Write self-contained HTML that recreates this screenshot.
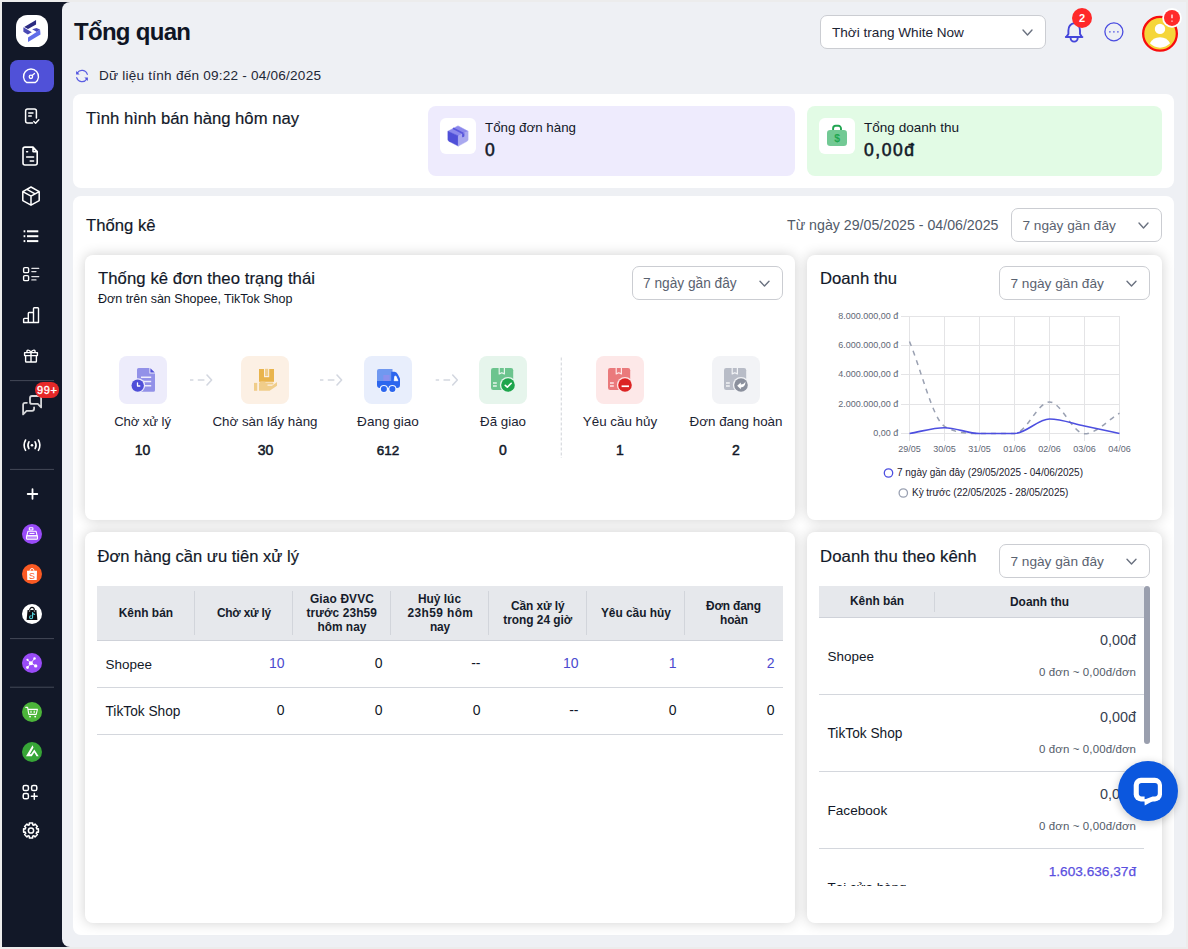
<!DOCTYPE html>
<html lang="vi"><head><meta charset="utf-8"><title>Tổng quan</title>
<style>
html,body{margin:0;padding:0;}
body{width:1188px;height:949px;overflow:hidden;position:relative;background:#ececec;
font-family:"Liberation Sans", sans-serif;}
.b{position:absolute;box-sizing:border-box;}
.t{position:absolute;white-space:pre;line-height:1;font-family:"Liberation Sans", sans-serif;}
svg{position:absolute;overflow:visible;}
.sel{position:absolute;box-sizing:border-box;background:#fff;border:1px solid #cbcdd2;border-radius:7px;}
.card{position:absolute;box-sizing:border-box;background:#fff;border-radius:8px;}
.sub{position:absolute;box-sizing:border-box;background:#fff;border-radius:8px;box-shadow:0 0 13px rgba(0,0,0,.19);}
</style></head>
<body>
<div class="b" style="left:2px;top:2px;width:1184px;height:945px;background:#121828;"></div>
<div class="b" style="left:62px;top:2px;width:1124px;height:945px;background:#eef0f4;border-radius:8px 0 0 8px;"></div>
<div class="sel" style="left:820px;top:15px;width:226px;height:34px;"></div>
<div class="card" style="left:73px;top:94px;width:1101px;height:94px;"></div>
<div class="b" style="left:428px;top:106px;width:367px;height:70px;background:#eeebfd;border-radius:8px;"></div>
<div class="b" style="left:807px;top:106px;width:355px;height:70px;background:#e2fbe5;border-radius:8px;"></div>
<div class="b" style="left:440px;top:118px;width:36px;height:36px;background:#fff;border-radius:6px;"></div>
<div class="b" style="left:819px;top:118px;width:36px;height:36px;background:#fff;border-radius:6px;"></div>
<div class="card" style="left:73px;top:196px;width:1101px;height:738.5px;"></div>
<div class="sel" style="left:1011px;top:208px;width:151px;height:34px;"></div>
<div class="sub" style="left:85px;top:254.5px;width:710px;height:265px;"></div>
<div class="sub" style="left:807px;top:254.5px;width:355px;height:265px;"></div>
<div class="sub" style="left:85px;top:532px;width:710px;height:390.5px;"></div>
<div class="sub" style="left:807px;top:532px;width:355px;height:390.5px;"></div>
<div class="sel" style="left:632px;top:266px;width:151px;height:34px;"></div>
<div class="sel" style="left:999px;top:266px;width:151px;height:34px;"></div>
<div class="sel" style="left:999px;top:544px;width:151px;height:34px;"></div>
<div class="b" style="left:119px;top:356px;width:48px;height:48px;background:#edecfb;border-radius:8px;"></div>
<div class="b" style="left:241px;top:356px;width:48px;height:48px;background:#fcf0e4;border-radius:8px;"></div>
<div class="b" style="left:364px;top:356px;width:48px;height:48px;background:#e8eefc;border-radius:8px;"></div>
<div class="b" style="left:479px;top:356px;width:48px;height:48px;background:#e6f5ec;border-radius:8px;"></div>
<div class="b" style="left:596px;top:356px;width:48px;height:48px;background:#fde8e8;border-radius:8px;"></div>
<div class="b" style="left:712px;top:356px;width:48px;height:48px;background:#f2f3f6;border-radius:8px;"></div>
<div class="b" style="left:97px;top:586px;width:686px;height:54.5px;background:#e6e8ec;border-bottom:1px solid #cfd2d9;"></div>
<div class="b" style="left:194.0px;top:591px;width:1.0px;height:44px;background:#d2d5db;"></div>
<div class="b" style="left:292.0px;top:591px;width:1.0px;height:44px;background:#d2d5db;"></div>
<div class="b" style="left:390.0px;top:591px;width:1.0px;height:44px;background:#d2d5db;"></div>
<div class="b" style="left:488.0px;top:591px;width:1.0px;height:44px;background:#d2d5db;"></div>
<div class="b" style="left:586.0px;top:591px;width:1.0px;height:44px;background:#d2d5db;"></div>
<div class="b" style="left:684.0px;top:591px;width:1.0px;height:44px;background:#d2d5db;"></div>
<div class="b" style="left:97px;top:686.5px;width:686px;height:1.0px;background:#d4d7dd;"></div>
<div class="b" style="left:97px;top:733.7px;width:686px;height:1.0px;background:#d4d7dd;"></div>
<div class="b" style="left:819px;top:586px;width:325px;height:31.5px;background:#e6e8ec;border-bottom:1px solid #cfd2d9;"></div>
<div class="b" style="left:934px;top:591.5px;width:1px;height:20.5px;background:#d2d5db;"></div>
<div class="b" style="left:819px;top:694px;width:325px;height:1px;background:#d4d7dd;"></div>
<div class="b" style="left:819px;top:771px;width:325px;height:1px;background:#d4d7dd;"></div>
<div class="b" style="left:819px;top:848px;width:325px;height:1px;background:#d4d7dd;"></div>
<div class="b" style="left:1144px;top:586px;width:6px;height:158px;background:#9a9fae;border-radius:3px;"></div>
<svg style="left:0;top:0;" width="62" height="949" viewBox="0 0 62 949"><rect x="16" y="15" width="32" height="32" rx="11.5" fill="#fff"/>
<g transform="translate(16,15)"><polygon points="20.05,4.9 20.05,9.5 12.0,14.1 8.2,12.0" fill="#2b2b80"/><polygon points="7.4,12.2 7.4,16.7 11.8,19.6 15.8,17.3 8.7,12.9" fill="#4a4ab4"/><polygon points="16.2,14.3 20.5,12.9 24.1,14.6 20.9,16.9" fill="#4c4cbb"/><polygon points="24.1,14.8 24.5,19.4 12.0,27.0 12.0,22.4" fill="#606de9"/></g>
<rect x="10" y="60" width="44" height="32" rx="8" fill="#5051d8"/>
<path d="M26.6 82.5 A7.5 7.5 0 1 1 35.4 82.5 Z" stroke="#fff" fill="none" stroke-linecap="round" stroke-linejoin="round" stroke-width="1.4"/>
<circle cx="30.9" cy="76.8" r="1.7" stroke="#fff" fill="none" stroke-linecap="round" stroke-linejoin="round" stroke-width="1.3"/>
<path d="M32.2 75.5 L34.5 73.4" stroke="#fff" fill="none" stroke-linecap="round" stroke-linejoin="round" stroke-width="1.3"/>
<path d="M32.5 123 H27.6 A2 2 0 0 1 25.6 121 V111 A2 2 0 0 1 27.6 109 H34.4 A2 2 0 0 1 36.4 111 V118" stroke="#fff" fill="none" stroke-linecap="round" stroke-linejoin="round" stroke-width="1.5"/>
<path d="M28.7 113 H33 M28.7 116 H31.3" stroke="#fff" fill="none" stroke-linecap="round" stroke-linejoin="round" stroke-width="1.4"/>
<path d="M33.8 121.4 L35.6 123.2 L38.8 119.8" stroke="#fff" fill="none" stroke-linecap="round" stroke-linejoin="round" stroke-width="1.4"/>
<path d="M25 147.1 H33 L37.2 151.6 V163 A2 2 0 0 1 35.2 165 H25 A2 2 0 0 1 23 163 V149.1 A2 2 0 0 1 25 147.1 Z M33 147.3 V151.6 H37" stroke="#fff" fill="none" stroke-linecap="round" stroke-linejoin="round" stroke-width="1.6"/>
<path d="M26.6 151.7 H27.6 M26.6 157 H33.6 M30.2 161 H33.6" stroke="#fff" fill="none" stroke-linecap="round" stroke-linejoin="round" stroke-width="1.5"/>
<path d="M31 187 L39.2 191.6 V200.6 L31 205.2 L22.8 200.6 V191.6 Z M22.8 191.6 L31 196.2 L39.2 191.6 M31 196.2 V205.2 M26.9 189.3 L35.1 193.9" stroke="#fff" fill="none" stroke-linecap="round" stroke-linejoin="round" stroke-width="1.5"/>
<g fill="#fff"><rect x="27" y="230.3" width="11.3" height="2"/><rect x="27" y="235.2" width="11.3" height="2"/><rect x="27" y="240.1" width="11.3" height="2"/><rect x="23.6" y="230.3" width="1.7" height="2"/><rect x="23.6" y="235.2" width="1.7" height="2"/><rect x="23.6" y="240.1" width="1.7" height="2"/></g>
<rect x="23.6" y="267.6" width="5" height="5" rx="1.2" stroke="#fff" fill="none" stroke-linecap="round" stroke-linejoin="round" stroke-width="1.4"/><rect x="23.6" y="275.6" width="5" height="5" rx="1.2" stroke="#fff" fill="none" stroke-linecap="round" stroke-linejoin="round" stroke-width="1.4"/>
<path d="M31.8 268.3 H38.8 M31.8 271.6 H36 M31.8 276.6 H38.8 M31.8 279.9 H36" stroke="#e0e0e4" stroke-width="1.2" fill="none" stroke-linecap="round"/>
<path d="M23.6 322.5 V319.2 A0.8 0.8 0 0 1 24.4 318.4 H28.3 V313.3 A0.8 0.8 0 0 1 29.1 312.5 H33.5 V308.6 A0.8 0.8 0 0 1 34.3 307.8 H37.7 A0.8 0.8 0 0 1 38.5 308.6 V322.5 Z M28.3 318.4 V322.5 M33.5 312.5 V322.5" stroke="#fff" fill="none" stroke-linecap="round" stroke-linejoin="round" stroke-width="1.4"/>
<path d="M25.6 355.6 V361.2 A0.8 0.8 0 0 0 26.4 362 H35.6 A0.8 0.8 0 0 0 36.4 361.2 V355.6 M24.6 352.6 H37.4 V355.6 H24.6 Z M31 352.6 V362 M31 352.6 C29.5 349 25.8 349.6 27.2 352.4 M31 352.6 C32.5 349 36.2 349.6 34.8 352.4" stroke="#fff" fill="none" stroke-linecap="round" stroke-linejoin="round" stroke-width="1.4"/>
<rect x="10" y="380.1" width="44" height="1" fill="#444957"/>
<rect x="10" y="468.9" width="44" height="1" fill="#444957"/>
<rect x="10" y="638.1" width="44" height="1" fill="#444957"/>
<rect x="10" y="686.7" width="44" height="1" fill="#444957"/>
<path d="M32 396 H39.1 A2 2 0 0 1 41.1 398 V407.4 L37.8 403.9 H32 A2 2 0 0 1 30 401.9 V398 A2 2 0 0 1 32 396 Z" stroke="#d6d7da" fill="none" stroke-linecap="round" stroke-linejoin="round" stroke-width="1.8"/>
<path d="M26.9 402.8 H25.1 A2 2 0 0 0 23.1 404.8 V414.4 L26.6 410.8 H32.1 A2 2 0 0 0 34.1 408.8 V407.3" stroke="#d6d7da" fill="none" stroke-linecap="round" stroke-linejoin="round" stroke-width="1.8"/>
<rect x="35" y="382" width="24.1" height="16.1" rx="8" fill="#e52828"/>
<text x="46.9" y="394" text-anchor="middle" font-family="Liberation Sans, sans-serif" font-size="11" fill="#fff" stroke="#fff" stroke-width="0.35" textLength="20" lengthAdjust="spacing">99+</text>
<circle cx="32" cy="445.2" r="1.3" fill="#fff"/>
<path d="M28.9 441.8 Q26.9 445.2 28.9 448.6 M35.1 441.8 Q37.1 445.2 35.1 448.6 M25.6 440 Q22.6 445.2 25.6 450.4 M38.4 440 Q41.4 445.2 38.4 450.4" stroke="#fff" fill="none" stroke-linecap="round" stroke-linejoin="round" stroke-width="1.6"/>
<path d="M32.5 489.2 V498.8 M27.7 494 H37.3" stroke="#fff" fill="none" stroke-linecap="round" stroke-linejoin="round" stroke-width="1.8"/>
<circle cx="32" cy="534" r="10" fill="#994bf8"/>
<g stroke="#fff" fill="none" stroke-width="1.1" stroke-linejoin="round"><rect x="29.3" y="527.8" width="3.6" height="2.2" rx="0.5"/><path d="M28 531.2 H36 L37.2 535.8 H26.8 Z"/><rect x="26.5" y="535.8" width="11" height="3.4" rx="0.8" fill="#fff" fill-opacity="0.35"/><path d="M29.5 533.4 H34.5"/></g>
<circle cx="32" cy="574" r="10" fill="#fa5a23"/>
<path d="M27 570.7 H37 L36.7 580 H27.3 Z" fill="#fff"/>
<path d="M30 570.9 A2 2.4 0 0 1 34 570.9" stroke="#fff" stroke-width="1" fill="none"/>
<text x="32" y="578.9" text-anchor="middle" font-family="Liberation Sans, sans-serif" font-size="9" fill="#fa5a23">S</text>
<circle cx="32" cy="614" r="10" fill="#fff"/>
<path d="M27.6 610 H36.4 L37.4 619.9 H26.6 Z" fill="#0b0b10"/><rect x="28.9" y="610.2" width="1.3" height="1.3" fill="#fff"/><rect x="33.8" y="610.2" width="1.3" height="1.3" fill="#fff"/>
<path d="M29.6 610.4 A2.4 3 0 0 1 34.4 610.4" stroke="#0b0b10" stroke-width="1.2" fill="none"/>
<path d="M32.6 612.6 V617.2 A1.5 1.5 0 1 1 31.1 615.7 M32.6 612.6 Q33 614.2 34.6 614.4" stroke="#59d6e0" stroke-width="1.1" fill="none" stroke-linecap="round"/>
<circle cx="32" cy="663" r="10" fill="#994bf8"/>
<g fill="#fff"><path d="M30.9 663.2 L34.5 658.5 M30.9 663.2 L27.5 659.8 M30.9 663.2 L27.5 667.5 M30.9 663.2 L35.7 665.9" fill="none" stroke="#fff" stroke-width="0.9"/><circle cx="30.9" cy="663.2" r="2"/><circle cx="34.5" cy="658.5" r="1.25"/><circle cx="27.5" cy="659.8" r="1.1"/><circle cx="27.5" cy="667.5" r="1.4"/><circle cx="35.7" cy="665.9" r="1.7"/></g>
<circle cx="32" cy="712" r="10" fill="#4cb53a"/>
<path d="M25.8 707.4 H27.6 L28.8 714.4 H36.2 L37.4 709.4 H28 M31 711 V712.4 M34.2 711 V712.4" stroke="#fff" stroke-width="1.1" fill="none" stroke-linecap="round" stroke-linejoin="round"/>
<circle cx="30" cy="716.6" r="0.95" fill="#fff"/><circle cx="35.2" cy="716.6" r="0.95" fill="#fff"/>
<circle cx="32" cy="752" r="10" fill="#37a537"/>
<polygon points="26,756.2 32.6,745.2 33.5,747.6 29.9,753.9 31,754.2 34.3,749.6 38.7,756.2 36.5,756.2 34.3,752.6 31.8,756.2" fill="#fff"/>
<rect x="23.2" y="785.4" width="5.2" height="5.2" rx="1.6" stroke="#fff" fill="none" stroke-linecap="round" stroke-linejoin="round" stroke-width="1.5"/><rect x="31.6" y="785.4" width="5.2" height="5.2" rx="1.6" stroke="#fff" fill="none" stroke-linecap="round" stroke-linejoin="round" stroke-width="1.5"/><rect x="23.2" y="793.6" width="5.2" height="5.2" rx="1.6" stroke="#fff" fill="none" stroke-linecap="round" stroke-linejoin="round" stroke-width="1.5"/><path d="M34.3 793.4 V799.2 M31.4 796.3 H37.2" stroke="#fff" fill="none" stroke-linecap="round" stroke-linejoin="round" stroke-width="1.5"/>
<path d="M29.34 823.08 L32.66 823.08 L32.62 824.72 L33.94 825.27 L35.07 824.08 L37.42 826.43 L36.23 827.56 L36.78 828.88 L38.42 828.84 L38.42 832.16 L36.78 832.12 L36.23 833.44 L37.42 834.57 L35.07 836.92 L33.94 835.73 L32.62 836.28 L32.66 837.92 L29.34 837.92 L29.38 836.28 L28.06 835.73 L26.93 836.92 L24.58 834.57 L25.77 833.44 L25.22 832.12 L23.58 832.16 L23.58 828.84 L25.22 828.88 L25.77 827.56 L24.58 826.43 L26.93 824.08 L28.06 825.27 L29.38 824.72 Z" stroke="#fff" fill="none" stroke-linecap="round" stroke-linejoin="round" stroke-width="1.5"/>
<circle cx="31" cy="830.5" r="2.6" stroke="#fff" fill="none" stroke-linecap="round" stroke-linejoin="round" stroke-width="1.5"/></svg>
<svg style="left:0;top:0;" width="1188" height="949" viewBox="0 0 1188 949"><path d="M87.3 74.4 A5.55 5.55 0 0 0 77.3 72.9" stroke="#5b5ee2" fill="none" stroke-width="1.2" stroke-linecap="round" stroke-linejoin="round"/>
<path d="M76.1 70.9 V74.4 H79.6 Z" fill="#5053de"/>
<path d="M76.7 77.6 A5.55 5.55 0 0 0 86.7 79.1" stroke="#5b5ee2" fill="none" stroke-width="1.2" stroke-linecap="round" stroke-linejoin="round"/>
<path d="M87.9 81.1 V77.6 H84.4 Z" fill="#5053de"/>
<path d="M1023.0 30.1 L1027.5 34.9 L1032.0 30.1" stroke="#6b7280" stroke-width="1.4" fill="none" stroke-linecap="round" stroke-linejoin="round"/>
<path d="M1139.0 223.1 L1143.5 227.9 L1148.0 223.1" stroke="#6b7280" stroke-width="1.4" fill="none" stroke-linecap="round" stroke-linejoin="round"/>
<path d="M760.0 281.3 L764.5 286.09999999999997 L769.0 281.3" stroke="#6b7280" stroke-width="1.4" fill="none" stroke-linecap="round" stroke-linejoin="round"/>
<path d="M1127.0 281.3 L1131.5 286.09999999999997 L1136.0 281.3" stroke="#6b7280" stroke-width="1.4" fill="none" stroke-linecap="round" stroke-linejoin="round"/>
<path d="M1127.0 559.3000000000001 L1131.5 564.1 L1136.0 559.3000000000001" stroke="#6b7280" stroke-width="1.4" fill="none" stroke-linecap="round" stroke-linejoin="round"/>
<path d="M1065.8 37 H1082.4 M1066.6 36.6 L1068.4 34 V30.4 C1068.4 26.6 1070.8 24 1074.2 23.2 C1077.6 24 1080 26.6 1080 30.4 V34 L1081.6 36.6 M1070.6 37.9 A3.55 3.7 0 0 0 1077.7 37.9" stroke="#4446da" fill="none" stroke-width="1.9" stroke-linecap="round" stroke-linejoin="round"/>
<circle cx="1082" cy="18" r="10" fill="#ff2929"/>
<text x="1082" y="22" text-anchor="middle" font-family="Liberation Sans, sans-serif" font-size="11" font-weight="700" fill="#fff">2</text>
<circle cx="1113.9" cy="31.8" r="9" stroke="#4a4ce0" stroke-width="1.3" fill="none"/>
<g fill="#6a6ce6"><circle cx="1109.9" cy="31.8" r="0.9"/><circle cx="1113.9" cy="31.8" r="0.9"/><circle cx="1117.9" cy="31.8" r="0.9"/></g>
<circle cx="1160" cy="33.8" r="16.85" fill="#f5d63a" stroke="#f80d0d" stroke-width="2.3"/>
<circle cx="1160" cy="28.9" r="5.2" fill="#fff"/>
<path d="M1149.9 43.3 A11.06 10.3 0 0 1 1170.1 43.3 A13.85 13.85 0 0 1 1149.9 43.3 Z" fill="#fff"/>
<circle cx="1172" cy="17.9" r="9.8" fill="#fff"/><circle cx="1172" cy="17.9" r="8" fill="#ff2a2a"/>
<rect x="1171.25" y="14.4" width="1.5" height="3.9" rx="0.4" fill="#ffe3e3"/><rect x="1171.25" y="20.4" width="1.5" height="1.4" rx="0.3" fill="#ffd0d0"/>
<g><path d="M458 125.9 L468.1 131.3 L458.3 135.9 L447.9 131.3 Z" fill="#8b88ec" stroke="#8b88ec" stroke-width="0.6" stroke-linejoin="round"/><path d="M447.9 131.3 L458.3 135.9 V146.1 L449 141.3 Q447.9 140.7 447.9 139.6 Z" fill="#4f4fd8" stroke="#4f4fd8" stroke-width="0.5" stroke-linejoin="round"/><path d="M468.1 131.3 L458.3 135.9 V146.1 L467 141.3 Q468.1 140.7 468.1 139.6 Z" fill="#a9a8ef" stroke="#a9a8ef" stroke-width="0.5" stroke-linejoin="round"/><path d="M453 128.3 L463.3 133.6" stroke="#5957dc" stroke-width="1.7" fill="none"/><path d="M462.1 134.2 L464.4 133.1 V136.3 Q463.2 137.6 462.1 137 Z" fill="#5957dc"/></g>
<path d="M833.1 130.4 V128.4 A2.6 2.6 0 0 1 835.7 125.8 H838.4 A2.6 2.6 0 0 1 841 128.4 V130.4" stroke="#22a552" stroke-width="1.9" fill="none"/>
<rect x="827" y="130" width="20" height="16" rx="3.2" fill="#72c994"/>
<text x="837.05" y="141.6" text-anchor="middle" font-family="Liberation Sans, sans-serif" font-size="10.4" font-weight="700" fill="#1fa751">$</text>
<path d="M190 380 H193.4 M197.8 380 H204.4" stroke="#d3d7e0" stroke-width="1.7" fill="none"/>
<path d="M207 375 L211.6 380 L207 385" stroke="#d3d7e0" stroke-width="1.6" fill="none" stroke-linecap="round" stroke-linejoin="round"/>
<path d="M320 380 H323.4 M327.8 380 H334.4" stroke="#d3d7e0" stroke-width="1.7" fill="none"/>
<path d="M337 375 L341.6 380 L337 385" stroke="#d3d7e0" stroke-width="1.6" fill="none" stroke-linecap="round" stroke-linejoin="round"/>
<path d="M435.7 380 H439.09999999999997 M443.5 380 H450.09999999999997" stroke="#d3d7e0" stroke-width="1.7" fill="none"/>
<path d="M452.7 375 L457.3 380 L452.7 385" stroke="#d3d7e0" stroke-width="1.6" fill="none" stroke-linecap="round" stroke-linejoin="round"/>
<path d="M561.25 357.5 V458" stroke="#cfd2d8" stroke-width="1" stroke-dasharray="3 2" fill="none"/>
<g transform="translate(119,356)"><path d="M19.6 12 H30.4 V17.6 H36 V34.2 A1.6 1.6 0 0 1 34.4 35.8 H19.6 A1.6 1.6 0 0 1 18 34.2 V13.6 A1.6 1.6 0 0 1 19.6 12 Z" fill="#9291e8"/><path d="M31.4 12.2 L35.8 16.6 H31.4 Z" fill="#4f4fd8"/><path d="M22 21.2 H32.2 M22 25.5 H32.2 M22 29.7 H32.2" stroke="#edecfb" stroke-width="1.4" fill="none"/><circle cx="18.7" cy="29.6" r="7.4" fill="#edecfb"/><circle cx="18.7" cy="29.6" r="6.2" fill="#4f4fd8"/><path d="M18.5 26.8 V30 H20.8" stroke="#fff" stroke-width="1.3" fill="none" stroke-linecap="round" stroke-linejoin="round"/></g>
<g transform="translate(241,356)"><rect x="18" y="13" width="15" height="12.8" fill="#e9b44c"/><rect x="23" y="12.8" width="5.2" height="8.4" fill="#fcf0e4"/><rect x="24" y="12.8" width="3.2" height="7.2" fill="#f0cd8a"/><path d="M18 27 C20 25 23 25.4 25 26.4 H31.5 C32.8 26.4 32.8 28.6 31.5 28.6 H27 C26 28.6 26 29.8 27 29.8 H31 L36 26 V29.8 L28.6 34.8 H18 Z" fill="#f0cd8a"/><rect x="13" y="26.9" width="3.2" height="7.9" fill="#f0cd8a"/></g>
<g transform="translate(364,356)"><path d="M15 13 H28.5 V25.2 H13 V15 A2 2 0 0 1 15 13 Z" fill="#7098f0"/><rect x="19.3" y="19" width="6.4" height="6.2" fill="#8b90ee"/><path d="M27.2 15.8 H30.4 C32.6 15.8 34.4 18.6 36 22.8 V29 A3 3 0 0 1 33 32 H16 A3 3 0 0 1 13 29 V25 H27.2 Z" fill="#2c66ee"/><path d="M30.8 20.2 H32 L33.9 24.7 H30.2 Z" fill="#fff" stroke="#fff" stroke-width="0.8" stroke-linejoin="round"/><circle cx="19.9" cy="33.1" r="4.1" fill="#f3f6fe"/><circle cx="28.4" cy="33.1" r="4.1" fill="#f3f6fe"/><circle cx="19.9" cy="33.1" r="3" fill="#2c66ee"/><circle cx="28.4" cy="33.1" r="3" fill="#2c66ee"/></g>
<g transform="translate(479,356)"><rect x="12" y="12" width="22.2" height="21.9" rx="2.2" fill="#6cc48e"/><path d="M20.2 12 V17.9 L22.8 16.7 L25.4 17.9 V12" stroke="#e6f5ec" stroke-width="1.2" fill="none" stroke-linejoin="round"/><path d="M14 26.9 H17.8 M14 30 H17.8" stroke="#e6f5ec" stroke-width="1.5" fill="none"/><circle cx="29" cy="29" r="8.1" fill="#e6f5ec"/><circle cx="29" cy="29" r="6.8" fill="#1ea54c"/><path d="M26.3 29.4 L28.3 31.2 L32.2 27.3" stroke="#fff" stroke-width="1.6" fill="none" stroke-linecap="round" stroke-linejoin="round"/></g>
<g transform="translate(596,356)"><rect x="12" y="12" width="22.2" height="21.9" rx="2.2" fill="#ea7a7c"/><path d="M20.2 12 V17.9 L22.8 16.7 L25.4 17.9 V12" stroke="#fde8e8" stroke-width="1.2" fill="none" stroke-linejoin="round"/><path d="M14 26.9 H17.8 M14 30 H17.8" stroke="#fde8e8" stroke-width="1.5" fill="none"/><circle cx="29" cy="29" r="8.1" fill="#fde8e8"/><circle cx="29" cy="29" r="6.8" fill="#dc2424"/><rect x="25.6" y="29.4" width="7.4" height="1.7" fill="#fff"/></g>
<g transform="translate(712,356)"><rect x="12" y="12" width="22.2" height="21.9" rx="2.2" fill="#b8bcc7"/><path d="M20.2 12 V17.9 L22.8 16.7 L25.4 17.9 V12" stroke="#f2f3f6" stroke-width="1.2" fill="none" stroke-linejoin="round"/><path d="M14 26.9 H17.8 M14 30 H17.8" stroke="#f2f3f6" stroke-width="1.5" fill="none"/><circle cx="29" cy="29" r="8.1" fill="#f2f3f6"/><circle cx="29" cy="29" r="6.8" fill="#8b909d"/><path d="M25.2 29.8 L28.8 26.6 V28.6 C31 28.6 32.6 27.6 33.4 25.6 C33.6 29.4 31.8 31.4 28.8 31.4 V33.2 Z" fill="#fff"/></g></svg>
<svg style="left:0;top:0;" width="1188" height="949" viewBox="0 0 1188 949"><rect x="901" y="316.0" width="219.0" height="1" fill="#e4e4e6"/>
<rect x="901" y="345.0" width="219.0" height="1" fill="#e4e4e6"/>
<rect x="901" y="374.0" width="219.0" height="1" fill="#e4e4e6"/>
<rect x="901" y="404.0" width="219.0" height="1" fill="#e4e4e6"/>
<rect x="901" y="433.0" width="219.0" height="1" fill="#e4e4e6"/>
<rect x="909.0" y="316.0" width="1" height="125.0" fill="#e4e4e6"/>
<rect x="944.0" y="316.0" width="1" height="125.0" fill="#e4e4e6"/>
<rect x="979.0" y="316.0" width="1" height="125.0" fill="#e4e4e6"/>
<rect x="1014.0" y="316.0" width="1" height="125.0" fill="#e4e4e6"/>
<rect x="1049.0" y="316.0" width="1" height="125.0" fill="#e4e4e6"/>
<rect x="1084.0" y="316.0" width="1" height="125.0" fill="#e4e4e6"/>
<rect x="1119.0" y="316.0" width="1" height="125.0" fill="#e4e4e6"/>
<text x="898.3" y="319.1" text-anchor="end" font-family="Liberation Sans, sans-serif" font-size="9" fill="#5f6775">8.000.000,00 đ</text>
<text x="898.3" y="348.1" text-anchor="end" font-family="Liberation Sans, sans-serif" font-size="9" fill="#5f6775">6.000.000,00 đ</text>
<text x="898.3" y="377.1" text-anchor="end" font-family="Liberation Sans, sans-serif" font-size="9" fill="#5f6775">4.000.000,00 đ</text>
<text x="898.3" y="407.1" text-anchor="end" font-family="Liberation Sans, sans-serif" font-size="9" fill="#5f6775">2.000.000,00 đ</text>
<text x="898.3" y="436.1" text-anchor="end" font-family="Liberation Sans, sans-serif" font-size="9" fill="#5f6775">0,00 đ</text>
<text x="909.5" y="452.2" text-anchor="middle" font-family="Liberation Sans, sans-serif" font-size="9" fill="#5f6775">29/05</text>
<text x="944.5" y="452.2" text-anchor="middle" font-family="Liberation Sans, sans-serif" font-size="9" fill="#5f6775">30/05</text>
<text x="979.5" y="452.2" text-anchor="middle" font-family="Liberation Sans, sans-serif" font-size="9" fill="#5f6775">31/05</text>
<text x="1014.5" y="452.2" text-anchor="middle" font-family="Liberation Sans, sans-serif" font-size="9" fill="#5f6775">01/06</text>
<text x="1049.5" y="452.2" text-anchor="middle" font-family="Liberation Sans, sans-serif" font-size="9" fill="#5f6775">02/06</text>
<text x="1084.5" y="452.2" text-anchor="middle" font-family="Liberation Sans, sans-serif" font-size="9" fill="#5f6775">03/06</text>
<text x="1119.5" y="452.2" text-anchor="middle" font-family="Liberation Sans, sans-serif" font-size="9" fill="#5f6775">04/06</text>
<path d="M909.50 341.50 C921.17 369.77 932.83 419.10 944.50 426.30 C956.17 433.50 967.83 433.50 979.50 433.50 C991.17 433.50 1002.83 433.50 1014.50 433.50 C1026.17 433.50 1037.83 401.90 1049.50 401.90 C1061.17 401.90 1072.83 433.80 1084.50 433.80 C1096.17 433.80 1107.83 420.07 1119.50 413.20" stroke="#9aa1b2" stroke-width="1.5" stroke-dasharray="5 5" fill="none"/>
<path d="M909.50 433.50 C921.17 431.57 932.83 427.70 944.50 427.70 C956.17 427.70 967.83 433.50 979.50 433.50 C991.17 433.50 1002.83 433.50 1014.50 433.50 C1026.17 433.50 1037.83 419.00 1049.50 419.00 C1061.17 419.00 1072.83 423.58 1084.50 426.00 C1096.17 428.42 1107.83 431.00 1119.50 433.50" stroke="#4d4fe0" stroke-width="1.6" fill="none"/>
<circle cx="888.5" cy="473" r="4.2" stroke="#4d4fe0" stroke-width="1.3" fill="#fff"/>
<text x="897" y="476.4" font-family="Liberation Sans, sans-serif" font-size="10" fill="#1c2230" textLength="186" lengthAdjust="spacing">7 ngày gần đây (29/05/2025 - 04/06/2025)</text>
<circle cx="903.3" cy="493" r="4.2" stroke="#9aa1b2" stroke-width="1.3" fill="#fff"/>
<text x="912" y="496.4" font-family="Liberation Sans, sans-serif" font-size="10" fill="#1c2230" textLength="156.3" lengthAdjust="spacing">Kỳ trước (22/05/2025 - 28/05/2025)</text></svg>
<span class="t" style="left:74.00px;top:20px;font-size:24px;color:#0f1524;font-weight:700;letter-spacing:-0.705px;">Tổng quan</span>
<span class="t" style="left:99.00px;top:69px;font-size:13.58px;color:#1f2736;letter-spacing:0.222px;">Dữ liệu tính đến 09:22 - 04/06/2025</span>
<span class="t" style="left:832.00px;top:26px;font-size:13.59px;color:#1c2433;">Thời trang White Now</span>
<span class="t" style="left:86.00px;top:111px;font-size:16.66px;color:#121828;-webkit-text-stroke:0.18px #121828;">Tình hình bán hàng hôm nay</span>
<span class="t" style="left:485.00px;top:121px;font-size:13.33px;color:#121828;">Tổng đơn hàng</span>
<span class="t" style="left:485.00px;top:142px;font-size:17.5px;color:#121828;-webkit-text-stroke:0.55px #121828;">0</span>
<span class="t" style="left:864.00px;top:121px;font-size:13.56px;color:#121828;letter-spacing:0.006px;">Tổng doanh thu</span>
<span class="t" style="left:864.00px;top:142px;font-size:17.5px;color:#121828;letter-spacing:1.551px;-webkit-text-stroke:0.55px #121828;">0,00đ</span>
<span class="t" style="left:86.00px;top:218px;font-size:16.67px;color:#121828;letter-spacing:0.007px;-webkit-text-stroke:0.18px #121828;">Thống kê</span>
<span class="t" style="left:787.00px;top:218px;font-size:14.19px;color:#525b69;">Từ ngày 29/05/2025 - 04/06/2025</span>
<span class="t" style="left:1022.40px;top:219px;font-size:13.67px;color:#5a6270;letter-spacing:0.007px;">7 ngày gần đây</span>
<span class="t" style="left:98.00px;top:271px;font-size:16.72px;color:#121828;letter-spacing:0.065px;-webkit-text-stroke:0.18px #121828;">Thống kê đơn theo trạng thái</span>
<span class="t" style="left:98.00px;top:293px;font-size:12.5px;color:#121828;">Đơn trên sàn Shopee, TikTok Shop</span>
<span class="t" style="left:643.00px;top:277px;font-size:13.71px;color:#5a6270;">7 ngày gần đây</span>
<span class="t" style="left:114.22px;top:415px;font-size:13.16px;color:#1c2433;letter-spacing:-0.113px;">Chờ xử lý</span>
<span class="t" style="left:212.50px;top:415px;font-size:13.32px;color:#1c2433;">Chờ sàn lấy hàng</span>
<span class="t" style="left:357.12px;top:415px;font-size:13.54px;color:#1c2433;letter-spacing:0.006px;">Đang giao</span>
<span class="t" style="left:480.00px;top:415px;font-size:13.34px;color:#1c2433;letter-spacing:0.008px;">Đã giao</span>
<span class="t" style="left:582.75px;top:415px;font-size:13.4px;color:#1c2433;">Yêu cầu hủy</span>
<span class="t" style="left:689.50px;top:415px;font-size:13.4px;color:#1c2433;letter-spacing:0.007px;">Đơn đang hoàn</span>
<span class="t" style="left:134.71px;top:443px;font-size:14px;color:#121828;-webkit-text-stroke:0.5px #121828;">10</span>
<span class="t" style="left:257.71px;top:443px;font-size:14px;color:#121828;-webkit-text-stroke:0.5px #121828;">30</span>
<span class="t" style="left:376.75px;top:444px;font-size:13.48px;color:#121828;letter-spacing:0.008px;-webkit-text-stroke:0.5px #121828;">612</span>
<span class="t" style="left:499.10px;top:443px;font-size:14px;color:#121828;-webkit-text-stroke:0.5px #121828;">0</span>
<span class="t" style="left:616.10px;top:443px;font-size:14px;color:#121828;-webkit-text-stroke:0.5px #121828;">1</span>
<span class="t" style="left:732.10px;top:443px;font-size:14px;color:#121828;-webkit-text-stroke:0.5px #121828;">2</span>
<span class="t" style="left:820.00px;top:271px;font-size:16.68px;color:#121828;letter-spacing:0.008px;-webkit-text-stroke:0.18px #121828;">Doanh thu</span>
<span class="t" style="left:1010.40px;top:277px;font-size:13.67px;color:#5a6270;letter-spacing:0.007px;">7 ngày gần đây</span>
<span class="t" style="left:97.50px;top:549px;font-size:16.56px;color:#121828;letter-spacing:0.006px;-webkit-text-stroke:0.18px #121828;">Đơn hàng cần ưu tiên xử lý</span>
<span class="t" style="left:118.78px;top:608px;font-size:11.9px;color:#161c2b;font-weight:700;letter-spacing:0.011px;">Kênh bán</span>
<span class="t" style="left:216.97px;top:608px;font-size:11.9px;color:#161c2b;font-weight:700;letter-spacing:-0.227px;">Chờ xử lý</span>
<span class="t" style="left:309.90px;top:594px;font-size:11.9px;color:#161c2b;font-weight:700;letter-spacing:0.152px;">Giao ĐVVC</span>
<span class="t" style="left:306.45px;top:608px;font-size:11.9px;color:#161c2b;font-weight:700;letter-spacing:0.120px;">trước 23h59</span>
<span class="t" style="left:317.40px;top:622px;font-size:11.9px;color:#161c2b;font-weight:700;letter-spacing:0.016px;">hôm nay</span>
<span class="t" style="left:418.00px;top:594px;font-size:11.9px;color:#161c2b;font-weight:700;letter-spacing:0.008px;">Huỷ lúc</span>
<span class="t" style="left:407.45px;top:608px;font-size:11.9px;color:#161c2b;font-weight:700;letter-spacing:0.422px;">23h59 hôm</span>
<span class="t" style="left:430.00px;top:622px;font-size:11.9px;color:#161c2b;font-weight:700;letter-spacing:-0.250px;">nay</span>
<span class="t" style="left:511.00px;top:601px;font-size:11.9px;color:#161c2b;font-weight:700;letter-spacing:-0.090px;">Cần xử lý</span>
<span class="t" style="left:503.25px;top:615px;font-size:11.9px;color:#161c2b;font-weight:700;letter-spacing:-0.021px;">trong 24 giờ</span>
<span class="t" style="left:600.90px;top:608px;font-size:11.9px;color:#161c2b;font-weight:700;">Yêu cầu hủy</span>
<span class="t" style="left:706.00px;top:601px;font-size:11.9px;color:#161c2b;font-weight:700;letter-spacing:-0.145px;">Đơn đang</span>
<span class="t" style="left:720.00px;top:615px;font-size:11.9px;color:#161c2b;font-weight:700;letter-spacing:-0.135px;">hoàn</span>
<span class="t" style="left:105.50px;top:658px;font-size:13.45px;color:#121828;letter-spacing:0.011px;">Shopee</span>
<span class="t" style="left:268.92px;top:656px;font-size:14px;color:#4b4acf;">10</span>
<span class="t" style="left:374.70px;top:656px;font-size:14px;color:#121828;">0</span>
<span class="t" style="left:471.17px;top:656px;font-size:14px;color:#121828;">--</span>
<span class="t" style="left:562.92px;top:656px;font-size:14px;color:#4b4acf;">10</span>
<span class="t" style="left:668.70px;top:656px;font-size:14px;color:#4b4acf;">1</span>
<span class="t" style="left:766.70px;top:656px;font-size:14px;color:#4b4acf;">2</span>
<span class="t" style="left:105.50px;top:705px;font-size:13.72px;color:#121828;">TikTok Shop</span>
<span class="t" style="left:276.70px;top:703px;font-size:14px;color:#121828;">0</span>
<span class="t" style="left:374.70px;top:703px;font-size:14px;color:#121828;">0</span>
<span class="t" style="left:472.70px;top:703px;font-size:14px;color:#121828;">0</span>
<span class="t" style="left:569.17px;top:703px;font-size:14px;color:#121828;">--</span>
<span class="t" style="left:668.70px;top:703px;font-size:14px;color:#121828;">0</span>
<span class="t" style="left:766.70px;top:703px;font-size:14px;color:#121828;">0</span>
<span class="t" style="left:820.00px;top:549px;font-size:16.72px;color:#121828;letter-spacing:0.078px;-webkit-text-stroke:0.18px #121828;">Doanh thu theo kênh</span>
<span class="t" style="left:1010.40px;top:555px;font-size:13.67px;color:#5a6270;letter-spacing:0.007px;">7 ngày gần đây</span>
<span class="t" style="left:850.00px;top:596px;font-size:11.9px;color:#161c2b;font-weight:700;letter-spacing:-0.025px;">Kênh bán</span>
<span class="t" style="left:1010.00px;top:597px;font-size:11.9px;color:#161c2b;font-weight:700;letter-spacing:0.027px;">Doanh thu</span>
<span class="t" style="left:827.50px;top:650px;font-size:13.45px;color:#121828;letter-spacing:0.011px;">Shopee</span>
<span class="t" style="left:1100.00px;top:633px;font-size:14.38px;color:#374151;">0,00đ</span>
<span class="t" style="left:1039.00px;top:667px;font-size:11.49px;color:#525b69;letter-spacing:0.111px;">0 đơn ~ 0,00đ/đơn</span>
<span class="t" style="left:827.50px;top:727px;font-size:13.72px;color:#121828;">TikTok Shop</span>
<span class="t" style="left:1100.00px;top:710px;font-size:14.38px;color:#374151;">0,00đ</span>
<span class="t" style="left:1039.00px;top:744px;font-size:11.49px;color:#525b69;letter-spacing:0.111px;">0 đơn ~ 0,00đ/đơn</span>
<span class="t" style="left:827.50px;top:804px;font-size:13.59px;color:#121828;letter-spacing:0.008px;">Facebook</span>
<span class="t" style="left:1100.00px;top:787px;font-size:14.38px;color:#374151;">0,00đ</span>
<span class="t" style="left:1039.00px;top:821px;font-size:11.49px;color:#525b69;letter-spacing:0.111px;">0 đơn ~ 0,00đ/đơn</span>
<span class="t" style="left:1048.70px;top:865px;font-size:13.65px;color:#5a4fe0;letter-spacing:0.005px;-webkit-text-stroke:0.25px #5a4fe0;">1.603.636,37đ</span>

<div class="b" style="left:819px;top:849px;width:325px;height:37px;overflow:hidden;">
<span class="t" style="left:8.5px;top:32px;font-size:13.4px;color:#121828;">Tại cửa hàng</span>
</div>
<div class="b" style="left:1118px;top:761px;width:60px;height:60px;border-radius:30px;background:#0b57de;box-shadow:0 2px 8px rgba(0,0,0,.22);"></div>
<svg style="left:1118px;top:761px;" width="60" height="60" viewBox="0 0 60 60">
<rect x="15.7" y="16.8" width="28.3" height="23.6" rx="7.2" fill="#fff"/>
<path d="M23.6 21.9 H37 A2.8 2.8 0 0 1 39.8 24.7 V32.6 A2.8 2.8 0 0 1 37 35.4 H34.6 L26.6 38.6 V35.4 H23.6 A2.8 2.8 0 0 1 20.8 32.6 V24.7 A2.8 2.8 0 0 1 23.6 21.9 Z" fill="#0b57de"/>
<path d="M26.4 38 L26.7 44.6 L36.4 39.2 Z" fill="#fff"/>
</svg>

</body></html>
